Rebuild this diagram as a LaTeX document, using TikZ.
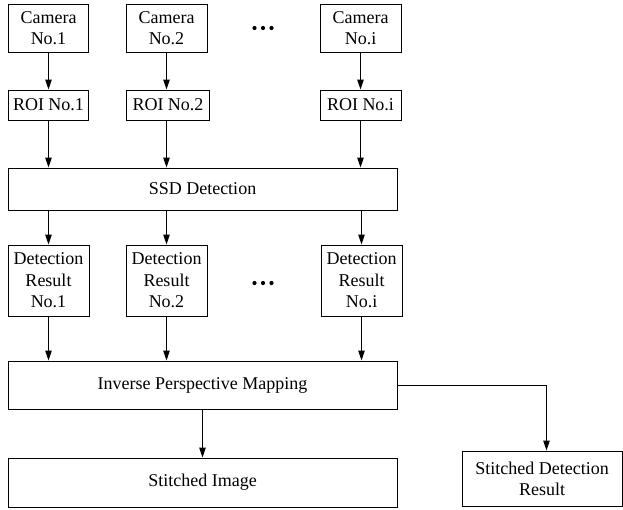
\documentclass[tikz,border=0pt]{standalone}
\usepackage{fontspec}
\setmainfont{Liberation Serif}
\usetikzlibrary{arrows.meta}
\begin{document}
\begin{tikzpicture}[x=1pt,y=-1pt,
  box/.style={draw, line width=1pt, inner sep=0pt, align=center, font=\fontsize{18}{21.6}\selectfont},
  arr/.style={line width=1pt, -{Triangle[length=10pt,width=6.5pt]}},
  dot/.style={fill=black}]
\useasboundingbox (0,0) rectangle (623,509);
% cameras
\node[box, minimum width=80pt, minimum height=48pt] (cam1) at (48.5,28) {Camera\\No.1};
\node[box, minimum width=81pt, minimum height=48pt] (cam2) at (166.5,28) {Camera\\No.2};
\node[box, minimum width=81pt, minimum height=48pt] (cami) at (360.5,28) {Camera\\No.i};
% ROI
\node[box, minimum width=80pt, minimum height=30pt] (roi1) at (48.5,105) {ROI No.1};
\node[box, minimum width=83pt, minimum height=30pt] (roi2) at (168,105) {ROI No.2};
\node[box, minimum width=81pt, minimum height=30pt] (roii) at (360.5,105) {ROI No.i};
% SSD
\node[box, minimum width=389pt, minimum height=42pt] (ssd) at (202.5,189) {SSD Detection};
% detection results
\node[box, minimum width=81pt, minimum height=71pt] (det1) at (48.5,280.5) {Detection\\Result\\No.1};
\node[box, minimum width=81pt, minimum height=71pt] (det2) at (166.5,280.5) {Detection\\Result\\No.2};
\node[box, minimum width=81pt, minimum height=71pt] (deti) at (361.5,280.5) {Detection\\Result\\No.i};
% IPM
\node[box, minimum width=389pt, minimum height=48pt] (ipm) at (202.5,385) {Inverse Perspective Mapping};
\node[box, minimum width=389pt, minimum height=49pt] (sti) at (202.5,482.5) {Stitched Image};
\node[box, minimum width=160pt, minimum height=55.5pt] (sdr) at (542,478.75) {Stitched Detection\\Result};
% ellipses
\foreach \yy in {28,283}{
  \fill[dot] (254.5,\yy) circle (2.1pt);
  \fill[dot] (263,\yy) circle (2.1pt);
  \fill[dot] (271.5,\yy) circle (2.1pt);
}
% arrows
\foreach \a/\b in {cam1/roi1, cami/roii, det1/ipm, det2/ipm, deti/ipm}{
  \draw[arr] (\a.south) -- (\a.south |- \b.north);
}
\draw[arr] (cam2.south) -- (cam2.south |- roi2.north);
\draw[arr] (roi1.south) -- (roi1.south |- ssd.north);
\draw[arr] (cam2.south |- roi2.south) -- (cam2.south |- ssd.north);
\draw[arr] (roii.south) -- (roii.south |- ssd.north);
\draw[arr] (det1.north |- ssd.south) -- (det1.north);
\draw[arr] (det2.north |- ssd.south) -- (det2.north);
\draw[arr] (deti.north |- ssd.south) -- (deti.north);
\draw[arr] (ipm.south) -- (sti.north);
\draw[arr] (ipm.east) -| ([xshift=4.5pt]sdr.north);
\end{tikzpicture}
\end{document}
